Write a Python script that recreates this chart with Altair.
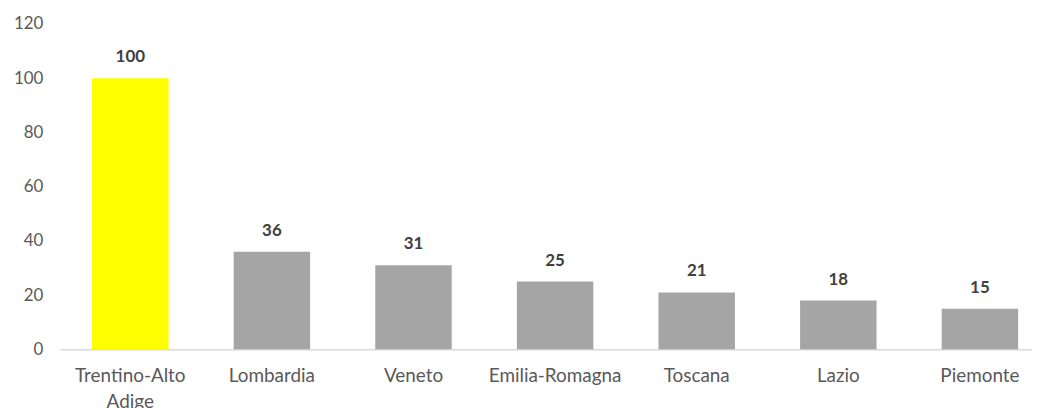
import altair as alt
import pandas as pd

regions = ["Trentino-Alto Adige", "Lombardia", "Veneto", "Emilia-Romagna", "Toscana", "Lazio", "Piemonte"]
values = [100, 36, 31, 25, 21, 18, 15]
bar_colors = ["#FFFF00", "#A5A5A5", "#A5A5A5", "#A5A5A5", "#A5A5A5", "#A5A5A5", "#A5A5A5"]
y_ticks = [0, 20, 40, 60, 80, 100, 120]

df = pd.DataFrame({"region": regions, "value": values})

FONT = "Lato"

x = alt.X(
    "region:N",
    sort=regions,
    title=None,
    scale=alt.Scale(paddingInner=0.46, paddingOuter=0.163, align=0.7),
    axis=alt.Axis(
        labelAngle=0,
        labelFont=FONT,
        labelFontSize=19,
        labelColor="#595959",
        labelPadding=17,
        labelLineHeight=26,
        labelExpr="datum.label == 'Trentino-Alto Adige' ? ['Trentino-Alto', 'Adige'] : datum.label",
        ticks=False,
        domainColor="#D9D9D9",
        domainWidth=1.5,
        grid=False,
    ),
)

y = alt.Y(
    "value:Q",
    title=None,
    scale=alt.Scale(domain=[0, 120], nice=False),
    axis=alt.Axis(
        values=y_ticks,
        labelFont=FONT,
        labelFontSize=17,
        labelColor="#595959",
        labelPadding=17,
        ticks=False,
        domain=False,
        grid=False,
    ),
)

bars = alt.Chart(df).mark_bar().encode(
    x=x,
    y=y,
    color=alt.Color("region:N", scale=alt.Scale(domain=regions, range=bar_colors), legend=None),
)

labels = alt.Chart(df).mark_text(
    font=FONT, fontSize=17, fontWeight="bold", color="#404040", baseline="alphabetic", dy=-16
).encode(
    x=alt.X("region:N", sort=regions),
    y="value:Q",
    text="value:Q",
)

chart = (
    alt.layer(bars, labels)
    .properties(
        width=977,
        height=327,
        padding={"left": 52, "top": 15, "right": 0, "bottom": 64},
        autosize=alt.AutoSizeParams(type="none"),
    )
    .configure(background="white", view=alt.ViewConfig(strokeWidth=0, stroke="transparent"))
)

chart.save("out.html", embed_options={"renderer": "svg", "actions": False})
